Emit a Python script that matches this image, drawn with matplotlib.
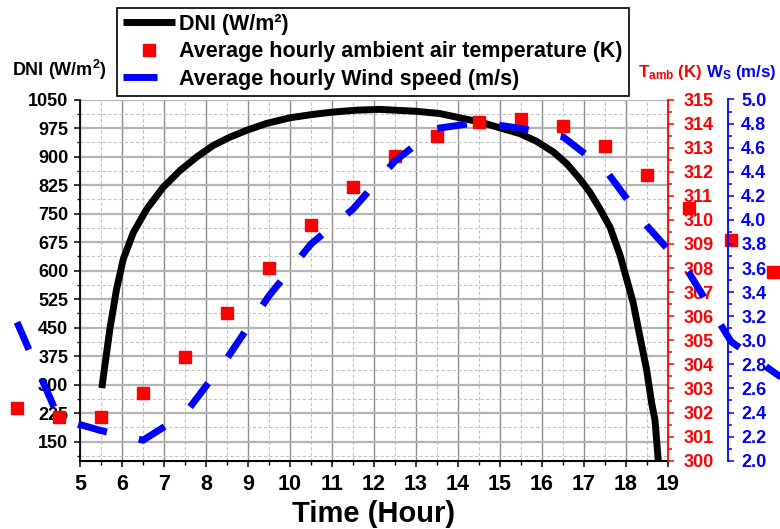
import matplotlib
matplotlib.use('Agg')
import matplotlib.pyplot as plt
from matplotlib.ticker import MultipleLocator, FormatStrFormatter
from matplotlib.lines import Line2D

plt.rcParams['font.family'] = ['Liberation Sans', 'DejaVu Sans']
plt.rcParams['font.weight'] = 'bold'
plt.rcParams['mathtext.fontset'] = 'custom'
plt.rcParams['mathtext.rm'] = 'Liberation Sans:bold'
plt.rcParams['mathtext.it'] = 'Liberation Sans:bold'
plt.rcParams['mathtext.bf'] = 'Liberation Sans:bold'

# ---- data ----
dni_hours = [5.52, 5.60, 5.71, 5.87, 6.03, 6.27, 6.59, 6.98, 7.38, 7.78, 8.17, 8.57,
             8.97, 9.44, 10.0, 10.56, 11.03, 11.59, 12.14, 13.0, 13.57, 14.12, 14.52,
             14.92, 15.48, 15.87, 16.27, 16.59, 16.9, 17.14, 17.38, 17.62, 17.86,
             18.17, 18.33, 18.49, 18.61, 18.69, 18.77]
dni_values = [291, 357, 445, 551, 630, 700, 762, 819, 863, 899, 929, 951,
              969, 987, 1002, 1011, 1017, 1022, 1024, 1019, 1013, 1000, 991,
              978, 960, 940, 912, 881, 841, 806, 762, 714, 640,
              516, 427, 340, 252, 207, 98]

hourly_times = [3.5, 4.5, 5.5, 6.5, 7.5, 8.5, 9.5, 10.5, 11.5, 12.5, 13.5, 14.5,
                15.5, 16.5, 17.5, 18.5, 19.5, 20.5, 21.5]
temp_values = [302.2, 301.8, 301.8, 302.8, 304.3, 306.15, 308.0, 309.8, 311.35, 312.65,
               313.5, 314.05, 314.2, 313.9, 313.05, 311.85, 310.5, 309.15, 307.85]

wind_times = [3.5, 4.5, 5.5, 6.5, 7.5, 8.5, 9.5, 10.5, 11.5, 12.5, 13.5, 14.5,
              15.5, 16.5, 17.5, 18.5, 19.5, 20.5, 21.5, 22.5]
wind_values = [3.15, 2.35, 2.25, 2.17, 2.39, 2.85, 3.37, 3.80, 4.09, 4.49, 4.76, 4.81,
               4.76, 4.69, 4.42, 3.95, 3.56, 2.99, 2.74, 2.5]

x_ticks = list(range(5, 20))
dni_ticks = [150, 225, 300, 375, 450, 525, 600, 675, 750, 825, 900, 975, 1050]

legend_labels = ['DNI (W/m²)', 'Average hourly ambient air temperature (K)',
                 'Average hourly Wind speed (m/s)']

RED = '#ff0000'
BLUE = '#0000ff'

W, H = 780, 529
fig = plt.figure(figsize=(W / 100, H / 100), dpi=100)
L, R, T, B = 80, 668, 99.5, 460.7
ax = fig.add_axes([L / W, 1 - B / H, (R - L) / W, (B - T) / H])

ax.set_xlim(5, 19)
ax.set_ylim(100, 1050)
ax.set_xticks(x_ticks)
ax.set_yticks(dni_ticks)
ax.xaxis.set_minor_locator(MultipleLocator(0.5))
ax.yaxis.set_minor_locator(MultipleLocator(37.5))
ax.set_axisbelow(True)
ax.grid(which='major', axis='x', color='#8c8c8c', lw=1.0, ls='-')
ax.grid(which='major', axis='y', color='#b4b4b4', lw=1.6, ls='-')
ax.grid(which='minor', color='#c4c4c4', lw=0.8, ls=(0, (3, 2)))

for s in ['top', 'right']:
    ax.spines[s].set_visible(False)
ax.spines['left'].set_linewidth(1.3)
ax.spines['bottom'].set_linewidth(1.5)
ax.tick_params(axis='y', which='major', direction='out', length=4.5, width=1.1,
               labelsize=13, pad=4)
ax.tick_params(axis='y', which='minor', direction='out', length=2.5, width=1.0)
ax.tick_params(axis='x', which='major', direction='out', length=4.5, width=1.1,
               labelsize=15.5, pad=5)
ax.tick_params(axis='x', which='minor', direction='out', length=3, width=1.0)
for lab in ax.get_xticklabels() + ax.get_yticklabels():
    lab.set_fontweight('bold')

dni_line, = ax.plot(dni_hours, dni_values, color='black', lw=5, solid_capstyle='butt',
                    solid_joinstyle='round', zorder=3)

# temperature axis
axT = ax.twinx()
axT.set_ylim(300, 315)
axT.yaxis.set_major_locator(MultipleLocator(1))
axT.yaxis.set_minor_locator(MultipleLocator(0.5))
for s in ['top', 'left', 'bottom']:
    axT.spines[s].set_visible(False)
axT.spines['right'].set_color(RED)
axT.spines['right'].set_linewidth(1.3)
axT.tick_params(axis='y', which='both', colors=RED, direction='out', labelsize=13,
                width=1.1, pad=7)
axT.tick_params(axis='y', which='major', length=4.5)
axT.tick_params(axis='y', which='minor', length=3)
for lab in axT.get_yticklabels():
    lab.set_fontweight('bold')
temp_line, = axT.plot(hourly_times, temp_values, ls='none', marker='s', ms=8,
                      color=RED, mec=RED, clip_on=False, zorder=4)

# wind axis
axW = ax.twinx()
axW.set_ylim(2.0, 5.0)
axW.yaxis.set_major_locator(MultipleLocator(0.2))
axW.yaxis.set_minor_locator(MultipleLocator(0.1))
axW.yaxis.set_major_formatter(FormatStrFormatter('%.1f'))
axW.spines['right'].set_position(('outward', 43.2))
for s in ['top', 'left', 'bottom']:
    axW.spines[s].set_visible(False)
axW.spines['right'].set_color(BLUE)
axW.spines['right'].set_linewidth(1.3)
axW.tick_params(axis='y', which='both', colors=BLUE, direction='out', labelsize=13,
                width=1.1, pad=5)
axW.tick_params(axis='y', which='major', length=4.5)
axW.tick_params(axis='y', which='minor', length=3)
for lab in axW.get_yticklabels():
    lab.set_fontweight('bold')
wind_line, = axW.plot(wind_times, wind_values, color=BLUE, lw=5, ls=(0, (4.3, 4.7)),
                      dash_capstyle='butt', clip_on=False, zorder=5)

# axis titles
fig.text(12 / W, 1 - 76 / H, r'DNI (W/m$^{2}$)', fontsize=13, fontweight='bold',
         ha='left', va='baseline')
fig.text(638 / W, 1 - 77 / H, r'T$_{\mathregular{amb}}$ (K)', fontsize=12.2,
         fontweight='bold', color=RED, ha='left', va='baseline')
fig.text(706 / W, 1 - 77 / H, r'W$_{\mathregular{S}}$ (m/s)', fontsize=12.2,
         fontweight='bold', color=BLUE, ha='left', va='baseline')
fig.text((L + R) / 2 / W, 1 - 522 / H, 'Time (Hour)', fontsize=21, fontweight='bold',
         ha='center', va='baseline')

wind_handle = Line2D([], [], color=BLUE, lw=5, ls=(0, (4.9, 20)), dash_capstyle='butt')
leg = fig.legend([dni_line, temp_line, wind_handle], legend_labels,
                 loc='upper left', bbox_to_anchor=(117 / W, 1 - 8 / H),
                 borderaxespad=0, fancybox=False, edgecolor='black', framealpha=1,
                 handlelength=2.4, handletextpad=0.2, borderpad=0.28,
                 labelspacing=0.3, numpoints=1, prop={'weight': 'bold', 'size': 15.5})
leg.get_frame().set_linewidth(1.2)

fig.savefig('out.png', dpi=100)
